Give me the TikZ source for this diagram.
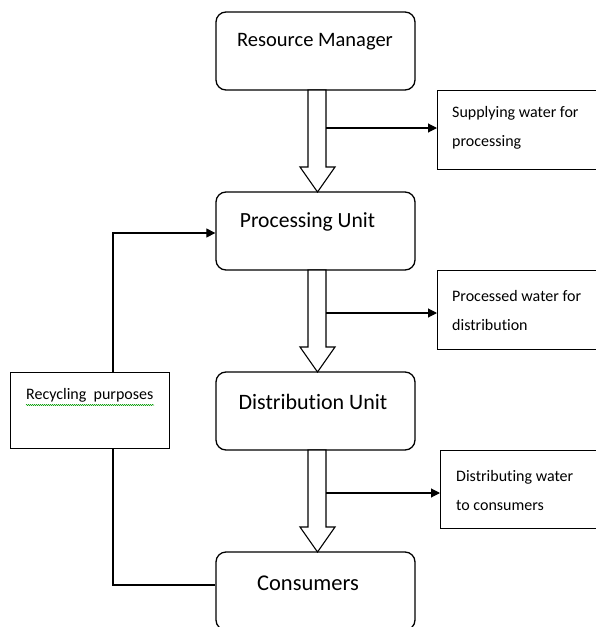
\documentclass[tikz,border=0pt]{standalone}
\usepackage{fontspec}
\setmainfont[Ligatures=NoCommon]{Carlito}
\usetikzlibrary{arrows.meta,decorations.pathmorphing}
\begin{document}
\begin{tikzpicture}[x=1pt,y=-1pt,
  rbox/.style={draw,line width=1.3pt,rounded corners=10pt,minimum width=199pt,minimum height=78pt,inner sep=0pt},
  sbox/.style={draw,line width=1.1pt,inner sep=0pt,anchor=north west},
  big/.style={font=\fontsize{#1}{22}\selectfont,inner sep=0pt},
  big/.default=21,
  small/.style={font=\fontsize{16}{29}\selectfont,inner sep=0pt,anchor=west,align=left},
  barrow/.style={draw,line width=1.1pt,fill=white},
  conn/.style={line width=1.1pt,-{Triangle[length=9pt,width=9pt]}},
  plain/.style={line width=1.1pt}]
\useasboundingbox (0,0) rectangle (595,627);
% main boxes
\node[rbox] (rm) at (315.5,51) {};
\node[big=20.5] (rmt) at (315,42) {Resource Manager};
\node[rbox] (pu) at (315.5,231) {};
\node[big=21.6] (put) at (307.5,222) {Processing Unit};
\node[rbox] (du) at (315.5,411) {};
\node[big=22] (dut) at (313,402) {Distribution Unit};
\node[rbox] (co) at (315.5,591) {};
\node[big=22.5] (cot) at (308,583) {Consumers};
% side boxes
\node[sbox,minimum width=165pt,minimum height=79pt] (s1) at (437,90) {};
\node[small] (s1t) at (452,128) {Supplying water for\\processing};
\node[sbox,minimum width=165pt,minimum height=79pt] (s2) at (437,270) {};
\node[small] (s2t) at (452,310) {Processed water for\\distribution};
\node[sbox,minimum width=162pt,minimum height=78pt] (s3) at (440,450) {};
\node[small] (s3t) at (456,490) {Distributing water\\to consumers};
\node[sbox,minimum width=159pt,minimum height=76pt] (rec) at (10,372) {};
\node[small] (rect) at (26,395) {Recycling\ \ purposes};
\draw[green!60!black,line width=0.5pt,decorate,decoration={snake,amplitude=0.6pt,segment length=2pt}] (26,405) -- (154,405);
% block arrows
\foreach \ya/\yb in {90/192,270/372,450/552}{
  \draw[barrow] (308,\ya) -- (308,\yb-25) -- (300,\yb-25) -- (317.5,\yb) -- (335,\yb-25) -- (326,\yb-25) -- (326,\ya) -- cycle;
}
% connectors
\coordinate (c1) at (326,128);
\coordinate (c2) at (326,313);
\coordinate (c3) at (326,493);
\draw[conn] (c1) -- (c1 -| s1.west);
\draw[conn] (c2) -- (c2 -| s2.west);
\draw[conn] (c3) -- (c3 -| s3.west);
\coordinate (r1) at (113,233);
\coordinate (r2) at (113,585);
\draw[conn] (r1 |- rec.north) -- (r1) -- (r1 -| pu.west);
\draw[plain] (r2 |- rec.south) -- (r2) -- (r2 -| co.west);
\end{tikzpicture}
\end{document}
